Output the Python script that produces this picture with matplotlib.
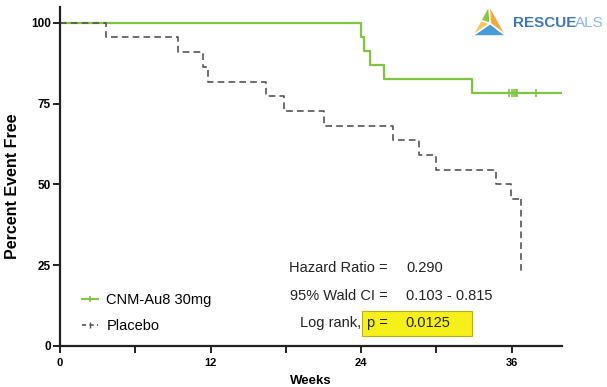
import matplotlib.pyplot as plt
from matplotlib.lines import Line2D
from matplotlib.patches import Rectangle, Polygon
from matplotlib.ticker import MultipleLocator

# Kaplan-Meier steps (weeks, percent event free)
au8_weeks = [0, 24.0, 24.2, 24.7, 25.8, 32.8, 40.0]
au8_pct = [100, 95.65, 91.3, 87.0, 82.6, 78.3, 78.3]
au8_censor_weeks = [35.8, 36.0, 36.15, 36.3, 36.45, 37.95]

placebo_weeks = [0, 3.66, 9.42, 11.41, 11.8, 16.38, 17.86, 21.0, 26.5, 28.6,
                 29.94, 34.77, 35.96, 36.75]
placebo_pct = [100, 95.45, 90.9, 86.4, 81.8, 77.3, 72.7, 68.2, 63.6, 59.1,
               54.5, 50.0, 45.45, 22.7]

stat_labels = ['Hazard Ratio =', '95% Wald CI =']
stat_values = ['0.290', '0.103 - 0.815']
p_value = '0.0125'

green = '#80c341'
grey = '#555555'
ink = '#222222'

plt.rcParams['font.family'] = ['Liberation Sans', 'DejaVu Sans']

fig = plt.figure(figsize=(6.07, 3.87), dpi=100)
ax = fig.add_axes([0.0988, 0.106, 0.827, 0.877])

ax.plot(au8_weeks, au8_pct, drawstyle='steps-post', color=green, lw=1.6)
ax.plot(au8_censor_weeks, [au8_pct[-1]] * len(au8_censor_weeks), ls='none',
        marker='|', ms=6, mew=1.2, color=green)

# placebo: steps up to the last time, then the final drop as a vertical segment
dash = (0, (4, 2.5))
ax.plot(placebo_weeks[:-1] + [placebo_weeks[-1]], placebo_pct[:-1] + [placebo_pct[-2]],
        drawstyle='steps-post', color=grey, lw=1.2, ls=dash)
ax.plot([placebo_weeks[-1], placebo_weeks[-1]], [placebo_pct[-2], placebo_pct[-1]],
        color=grey, lw=1.2, ls=dash)

ax.set_xlim(0, 40)
ax.set_ylim(0, 105)
ax.xaxis.set_major_locator(MultipleLocator(12))
ax.xaxis.set_minor_locator(MultipleLocator(6))
ax.set_yticks([0, 25, 50, 75, 100])
for s in ['top', 'right']:
    ax.spines[s].set_visible(False)
for s in ['left', 'bottom']:
    ax.spines[s].set_linewidth(1.6)
    ax.spines[s].set_color(ink)
ax.tick_params(which='both', direction='out', width=1.4, color=ink, length=5)
ax.tick_params(axis='y', labelsize=8.5, pad=1.5)
ax.tick_params(axis='x', labelsize=8, pad=4)
for lab in ax.get_xticklabels() + ax.get_yticklabels():
    lab.set_fontweight('bold')
ax.set_xlabel('Weeks', fontsize=9.5, fontweight='bold', va='top')
ax.xaxis.set_label_coords(0.5, -0.085)
ax.set_ylabel('Percent Event Free', fontsize=11.5, fontweight='bold')
ax.yaxis.set_label_coords(-0.08, 0.47)

# statistics block
fs = 10.5
ax.text(26.1, 24.1, stat_labels[0], ha='right', va='center', fontsize=fs, color=ink)
ax.text(27.6, 24.1, stat_values[0], ha='left', va='center', fontsize=fs, color=ink)
ax.text(26.1, 15.5, stat_labels[1], ha='right', va='center', fontsize=fs, color=ink)
ax.text(27.6, 15.5, stat_values[1], ha='left', va='center', fontsize=fs, color=ink)
ax.add_patch(Rectangle((24.1, 3.1), 8.7, 7.7, facecolor='#f5f01a', edgecolor='#b5b020', lw=0.8))
ax.text(24.0, 7.2, 'Log rank,', ha='right', va='center', fontsize=fs, color=ink)
ax.text(24.5, 7.2, 'p =', ha='left', va='center', fontsize=fs, color=ink)
ax.text(27.55, 7.2, p_value, ha='left', va='center', fontsize=fs, color=ink)

handles = [Line2D([0], [0], color=green, lw=1.4, marker='|', ms=5, mew=1.2),
           Line2D([0], [0], color=grey, lw=1.2, ls=(0, (2.5, 2)), marker='|', ms=5, mew=1.0)]
ax.legend(handles, ['CNM-Au8 30mg', 'Placebo'], loc='lower left',
          bbox_to_anchor=(0.02, 0.005), frameon=False, fontsize=10.5,
          handlelength=1.1, handletextpad=0.6, labelspacing=0.82, borderpad=0.3)

# logo
lax = fig.add_axes([0.775, 0.900, 0.062, 0.092])
lax.set_xlim(-1.1, 1.1)
lax.set_ylim(-0.9, 1.1)
lax.axis('off')
top, left, right, mid = (0, 1.0), (-1.0, -0.75), (1.0, -0.75), (0.05, -0.05)
lax.add_patch(Polygon([top, (-0.5, 0.12), mid], facecolor='#8cc540', edgecolor='white', lw=1.2, joinstyle='round'))
lax.add_patch(Polygon([(-0.5, 0.12), left, mid], facecolor='#f7c75a', edgecolor='white', lw=1.2, joinstyle='round'))
lax.add_patch(Polygon([top, right, mid], facecolor='#f5a740', edgecolor='white', lw=1.2, joinstyle='round'))
lax.add_patch(Polygon([left, right, mid], facecolor='#4a9ad6', edgecolor='white', lw=1.2, joinstyle='round'))
fig.text(0.845, 0.941, 'RESCUE', fontsize=11, fontweight='bold', color='#3f78b5', va='center')
fig.text(0.947, 0.941, 'ALS', fontsize=11, color='#8fb8dd', va='center')

fig.savefig('out.png', dpi=100)
